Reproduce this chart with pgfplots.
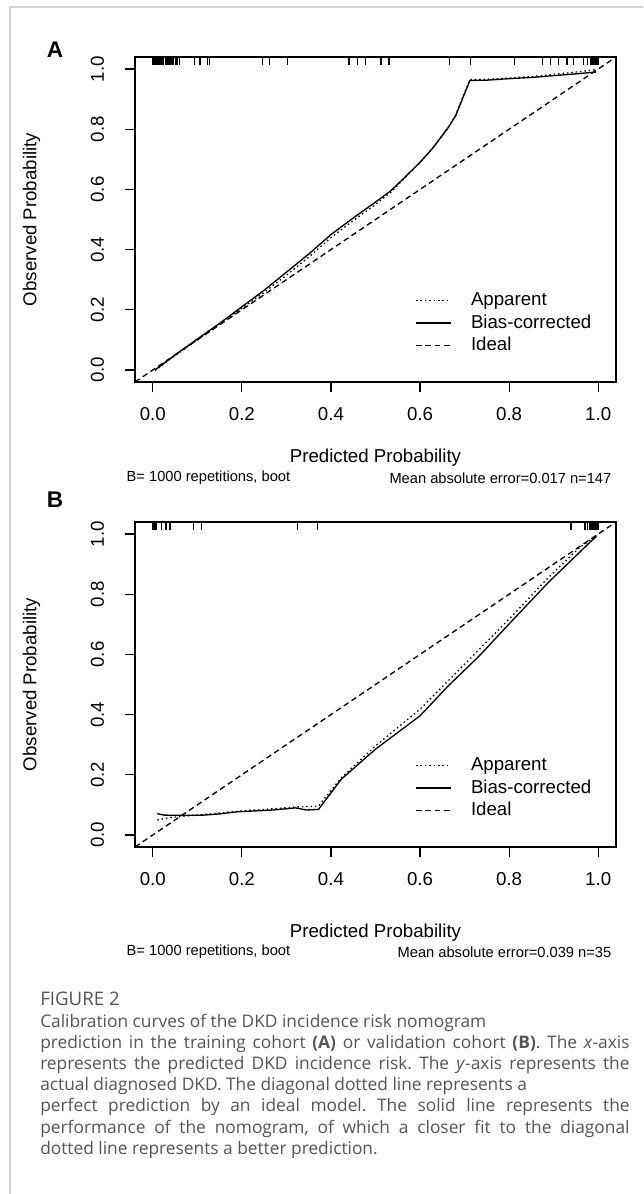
\documentclass[border=0pt]{standalone}
\usepackage{pgfplots}
\pgfplotsset{compat=1.18}
\usepackage{fontspec}
\setmainfont{Liberation Sans}
\newfontfamily\capfont{Open Sans}
\definecolor{capgray}{RGB}{85,85,85}
\definecolor{framegray}{RGB}{210,210,210}
\frenchspacing

\pgfplotsset{
  calib/.style={
    width=360.75pt, height=243.75pt, scale only axis,
    xmin=-0.04, xmax=1.04, ymin=-0.04, ymax=1.04,
    xtick={0,0.2,0.4,0.6,0.8,1}, ytick={0,0.2,0.4,0.6,0.8,1},
    xtick pos=left, ytick pos=left,
    tick align=outside, major tick length=7.75pt,
    tick style={black, line width=0.9pt},
    axis line style={line width=1pt},
    /pgf/number format/fixed, /pgf/number format/fixed zerofill,
    /pgf/number format/precision=1, /pgf/number format/assume math mode=true,
    tick label style={font=\fontsize{14}{16}\selectfont},
    yticklabel style={rotate=90, anchor=south},
    yticklabel shift=12pt, xticklabel shift=7.5pt,
    label style={font=\fontsize{14}{16}\selectfont},
    xlabel={Predicted Probability}, ylabel={Observed Probability},
    ylabel style={at={(axis description cs:-0.215,0.5)}, anchor=center},
    legend cell align=left,
    legend style={draw=none, fill=none, at={(axis cs:0.58,0.278)}, anchor=north west,
      font=\fontsize{14}{16}\selectfont, row sep=0pt, column sep=13pt,
      nodes={text height=10.5pt, text depth=3pt, inner sep=1.7pt}},
    legend image code/.code={\draw[#1] (0pt,0pt) -- (26pt,0pt);},
  },
  apparent/.style={black, line width=1pt, dash pattern=on 1.1pt off 2.2pt},
  biasc/.style={black, line width=1pt},
  ideal/.style={black, line width=1pt, dash pattern=on 4.2pt off 2.8pt},
  rug/.style={only marks, mark=|, mark size=3pt, mark options={line width=1.1pt, black}, forget plot},
}

\begin{document}
\begin{tikzpicture}
\fill[white] (0,0) rectangle (482.25pt,-895.5pt);
\useasboundingbox (0,0) rectangle (482.25pt,-895.5pt);
\draw[framegray, line width=1.5pt] (7.5pt,-895.5pt) -- (7.5pt,-5.5pt) -- (482.25pt,-5.5pt);

% ---------------- Panel A ----------------
\node[font=\fontsize{17}{20}\selectfont\bfseries] at (41.25pt,-37pt) {A};
\begin{axis}[calib, at={(101.25pt,-286.5pt)}, anchor=south west,
  xlabel style={at={(axis description cs:0.5,-0.234)}, anchor=center}]
\addplot[apparent] coordinates {
(0.005,-0.002) (0.05,0.048) (0.1,0.1) (0.15,0.152) (0.2,0.205) (0.25,0.258) (0.3,0.315)
(0.35,0.375) (0.4,0.44) (0.45,0.496) (0.5,0.55) (0.534,0.59) (0.56,0.63) (0.6,0.69)
(0.63,0.74) (0.663,0.805) (0.68,0.847) (0.695,0.905) (0.712,0.965) (0.75,0.966)
(0.8,0.97) (0.85,0.975) (0.9,0.982) (0.95,0.99) (0.995,0.998)};
\addlegendentry{Apparent}
\addplot[biasc] coordinates {
(0.005,0.0) (0.05,0.05) (0.1,0.103) (0.15,0.155) (0.2,0.21) (0.25,0.265) (0.3,0.325)
(0.35,0.385) (0.4,0.45) (0.45,0.505) (0.5,0.558) (0.534,0.595) (0.56,0.632) (0.6,0.69)
(0.63,0.74) (0.663,0.805) (0.68,0.845) (0.695,0.9) (0.712,0.962) (0.75,0.963)
(0.8,0.968) (0.85,0.972) (0.9,0.978) (0.95,0.984) (0.995,0.99)};
\addlegendentry{Bias-corrected}
\addplot[ideal] coordinates {(-0.04,-0.04) (1.04,1.04)};
\addlegendentry{Ideal}
\addplot[rug] coordinates {
(0.0,1.027) (0.003,1.027) (0.006,1.027) (0.009,1.027) (0.012,1.027) (0.015,1.027)
(0.018,1.027) (0.021,1.027) (0.024,1.027) (0.03,1.027) (0.033,1.027) (0.036,1.027)
(0.039,1.027) (0.042,1.027) (0.045,1.027) (0.052,1.027) (0.055,1.027) (0.06,1.027)
(0.094,1.027) (0.106,1.027) (0.123,1.027) (0.127,1.027)
(0.246,1.027) (0.262,1.027) (0.302,1.027) (0.44,1.027) (0.459,1.027) (0.477,1.027)
(0.512,1.027) (0.53,1.027) (0.666,1.027) (0.713,1.027) (0.812,1.027) (0.875,1.027)
(0.893,1.027) (0.911,1.027) (0.93,1.027) (0.944,1.027) (0.967,1.027) (0.976,1.027)
(0.983,1.027) (0.986,1.027) (0.989,1.027) (0.992,1.027) (0.995,1.027) (0.998,1.027) (1.0,1.027)};
\end{axis}
\node[anchor=west, font=\fontsize{11}{13}\selectfont] at (91.5pt,-358.5pt) {B= 1000 repetitions, boot};
\node[anchor=east, font=\fontsize{11}{13}\selectfont] at (462pt,-358.5pt) {Mean absolute error=0.017 n=147};

% ---------------- Panel B ----------------
\node[font=\fontsize{17}{20}\selectfont\bfseries] at (41.25pt,-375pt) {B};
\begin{axis}[calib, at={(101.25pt,-635.25pt)}, anchor=south west,
  xlabel style={at={(axis description cs:0.5,-0.265)}, anchor=center}]
\addplot[apparent] coordinates {
(0.01,0.05) (0.04,0.058) (0.071,0.063) (0.115,0.068) (0.19,0.079) (0.27,0.087) (0.32,0.093)
(0.372,0.096) (0.423,0.19) (0.5,0.296) (0.6,0.418) (0.663,0.512) (0.733,0.617)
(0.803,0.722) (0.888,0.855) (0.958,0.955) (0.996,0.995)};
\addlegendentry{Apparent}
\addplot[biasc] coordinates {
(0.01,0.071) (0.025,0.066) (0.07,0.065) (0.115,0.066) (0.15,0.07) (0.19,0.077) (0.23,0.08)
(0.27,0.083) (0.32,0.09) (0.345,0.083) (0.372,0.085) (0.423,0.185) (0.5,0.285) (0.6,0.396)
(0.663,0.495) (0.733,0.595) (0.803,0.706) (0.888,0.839) (0.958,0.939) (0.981,0.972) (0.996,0.992)};
\addlegendentry{Bias-corrected}
\addplot[ideal] coordinates {(-0.04,-0.04) (1.04,1.04)};
\addlegendentry{Ideal}
\addplot[rug] coordinates {
(0.0,1.027) (0.002,1.027) (0.004,1.027) (0.006,1.027) (0.008,1.027) (0.02,1.027)
(0.03,1.027) (0.039,1.027) (0.091,1.027) (0.109,1.027) (0.325,1.027) (0.37,1.027)
(0.939,1.027) (0.97,1.027) (0.976,1.027) (0.981,1.027) (0.984,1.027) (0.987,1.027)
(0.99,1.027) (0.993,1.027) (0.996,1.027) (0.999,1.027) (1.0,1.027)};
\end{axis}
\node[anchor=west, font=\fontsize{11}{13}\selectfont] at (91.5pt,-714pt) {B= 1000 repetitions, boot};
\node[anchor=east, font=\fontsize{11}{13}\selectfont] at (462pt,-714pt) {Mean absolute error=0.039 n=35};

% ---------------- Caption ----------------
\begin{scope}[every node/.style={anchor=base west, inner sep=0pt, text=capgray}]
\node[font=\capfont\fontsize{14}{16}\selectfont] at (30pt,-753.75pt) {FIGURE 2};
\node[font=\capfont\fontsize{13}{16}\selectfont] at (30pt,-770.25pt) {Calibration curves of the DKD incidence risk nomogram};
\node[font=\capfont\fontsize{13}{16}\selectfont] at (30pt,-786.15pt) {\hbox to 442pt{prediction in the training cohort \textbf{(A)} or validation cohort \textbf{(B)}. The \textit{x}-axis}};
\node[font=\capfont\fontsize{13}{16}\selectfont] at (30pt,-802.05pt) {\hbox to 442pt{represents the predicted DKD incidence risk. The \textit{y}-axis represents the}};
\node[font=\capfont\fontsize{13}{16}\selectfont] at (30pt,-817.95pt) {actual diagnosed DKD. The diagonal dotted line represents a};
\node[font=\capfont\fontsize{13}{16}\selectfont] at (30pt,-833.85pt) {\hbox to 442pt{perfect prediction by an ideal model. The solid line represents the}};
\node[font=\capfont\fontsize{13}{16}\selectfont] at (30pt,-849.75pt) {\hbox to 442pt{performance of the nomogram, of which a closer fit to the diagonal}};
\node[font=\capfont\fontsize{13}{16}\selectfont] at (30pt,-865.65pt) {dotted line represents a better prediction.};
\end{scope}
\end{tikzpicture}
\end{document}
